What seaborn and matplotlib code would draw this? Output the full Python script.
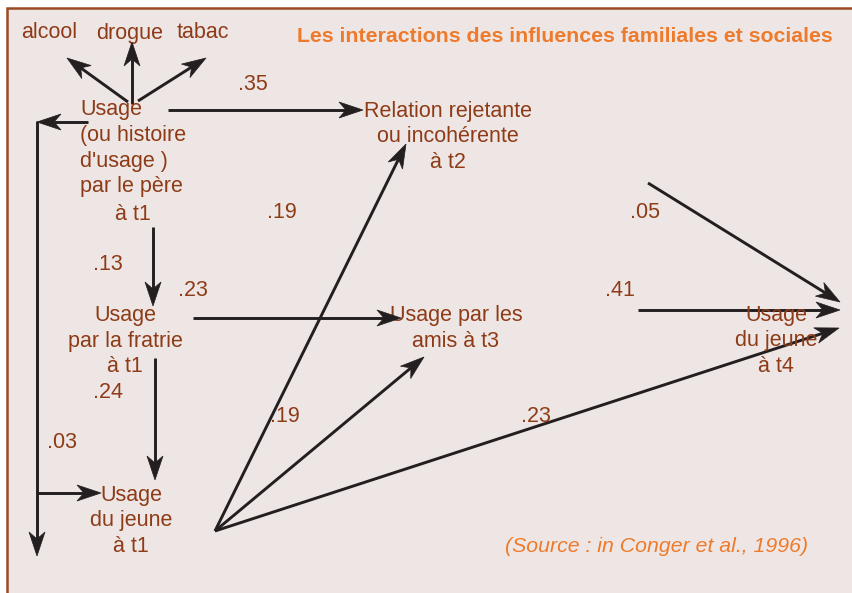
import numpy as np
import matplotlib.pyplot as plt
import seaborn as sns
from matplotlib.patches import Polygon, Rectangle

# Texts of the path diagram
title = 'Les interactions des influences familiales et sociales'
source = '(Source : in Conger et al., 1996)'
substances = ['alcool', 'drogue', 'tabac']
pere_lines = ['Usage', '(ou histoire', "d'usage )", 'par le père']
pere_time = 'à t1'
relation_lines = ['Relation rejetante', 'ou incohérente', 'à t2']
fratrie_lines = ['Usage', 'par la fratrie', 'à t1']
amis_lines = ['Usage par les', 'amis à t3']
jeune1_lines = ['Usage', 'du jeune', 'à t1']
jeune4_lines = ['Usage', 'du jeune', 'à t4']

# path coefficients
coef_labels = ['.35', '.13', '.19', '.23', '.24', '.03', '.19', '.23', '.05', '.41']

# colours
BG = '#EEE6E4'
BORDER = '#9A4A22'
BROWN = '#8E3B17'
ORANGE = '#EE7A2B'
LINE = '#231F20'
FS = 15.5
DY = 2  # small vertical nudge for text

sns.set_theme(style='white')
plt.rcParams['font.family'] = ['Liberation Sans', 'DejaVu Sans']

fig = plt.figure(figsize=(8.52, 5.93), dpi=100)
fig.patch.set_facecolor('white')
ax = fig.add_axes([0, 0, 1, 1])
ax.set_xlim(0, 852)
ax.set_ylim(593, 0)
ax.axis('off')

ax.add_patch(Rectangle((7, 8), 870, 620, fc=BG, ec=BORDER, lw=1.8, zorder=0))


def arrow(p0, p1, head=True, hl=24, hw=8, notch=7):
    p0 = np.array(p0, float)
    p1 = np.array(p1, float)
    d = p1 - p0
    u = d / np.hypot(*d)
    n = np.array([-u[1], u[0]])
    end = p1
    if head:
        back = p1 - u * hl
        pts = [p1, back + n * hw, p1 - u * (hl - notch), back - n * hw]
        ax.add_patch(Polygon(pts, closed=True, fc=LINE, ec=LINE, lw=0.5, zorder=3))
        end = p1 - u * (hl - notch)
    ax.plot([p0[0], end[0]], [p0[1], end[1]], color=LINE, lw=2.1,
            solid_capstyle='butt', zorder=2)


def label(x, y, s, ha='center', **kw):
    kw.setdefault('color', BROWN)
    kw.setdefault('fontsize', FS)
    ax.text(x, y + DY, s, ha=ha, va='center', **kw)


def block(lines, x, y0, ha='center', step=25.5):
    for i, s in enumerate(lines):
        label(x, y0 + i * step, s, ha=ha)


# titles
label(833, 34, title, ha='right', color=ORANGE, fontsize=15.3, fontweight='bold')
label(808, 545, source, ha='right', color=ORANGE, fontsize=15.3, style='italic')

# substances
for s, x in zip(substances, [49, 130, 203]):
    label(x, 31, s)
arrow((128, 102), (67, 58))
arrow((132, 104), (132, 42))
arrow((138, 101), (206, 58))

# nodes
block(pere_lines, 80, 108, ha='left')
label(133, 212, pere_time)
block(relation_lines, 448, 109)
block(fratrie_lines, 125, 314)
block(amis_lines, 456, 314)
block(jeune1_lines, 131, 493)
block(jeune4_lines, 776, 313)

# coefficients
coef_pos = [(253, 83), (108, 263), (282, 211), (193, 288), (108, 391),
            (62, 441), (285, 415), (536, 415), (645, 211), (620, 288)]
for c, (x, y) in zip(coef_labels, coef_pos):
    label(x, y, c)

# paths
arrow((168, 110), (363, 110))
arrow((88, 122), (37, 122))
arrow((37, 121), (37, 556))
arrow((37, 493), (101, 493))
arrow((153, 227), (153, 306))
arrow((193, 318), (401, 318))
arrow((155, 358), (155, 480))
arrow((215, 531), (406, 144))
arrow((215, 531), (424, 357))
arrow((215, 531), (839, 328))
arrow((648, 183), (840, 302))
arrow((638, 310), (840, 310))

fig.savefig('out.png', dpi=100, facecolor='white')
